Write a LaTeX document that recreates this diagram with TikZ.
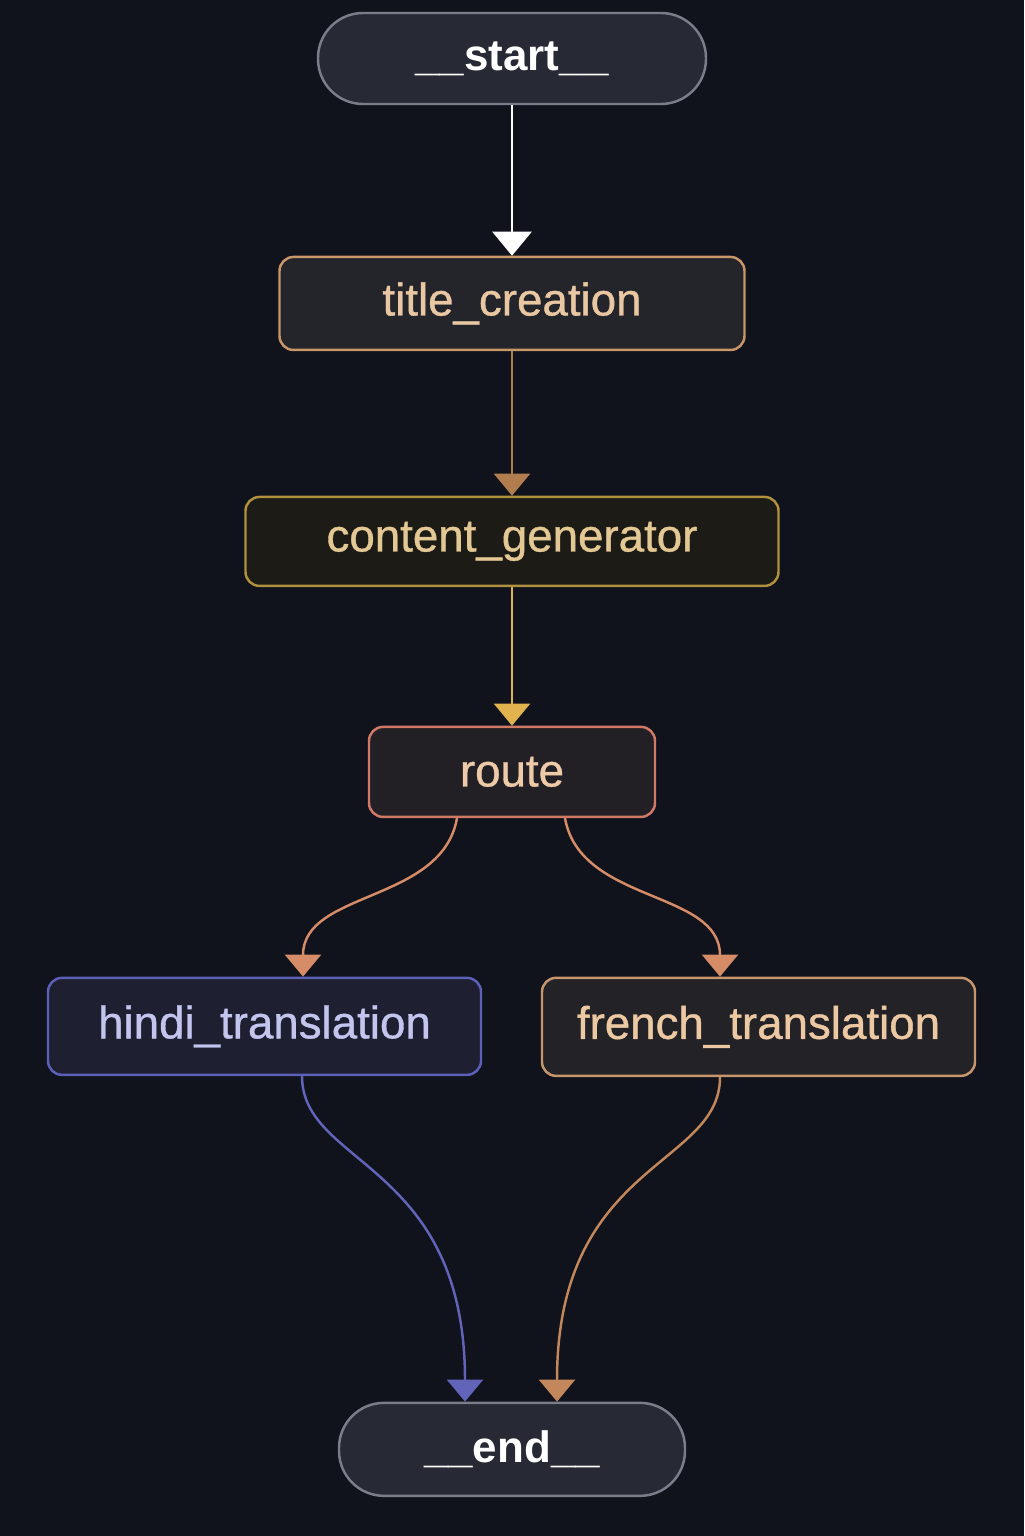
\documentclass[tikz,border=0pt]{standalone}
\usepackage{fontspec}
\setmainfont{Liberation Sans}
\newfontfamily\medfont[FakeBold=0.8]{Liberation Sans}
\usepackage{tikz}
\usetikzlibrary {arrows.meta,
                 positioning}
\definecolor{bgcol}{HTML}{10121C}
\definecolor{termfill}{HTML}{272935}
\definecolor{termline}{HTML}{7B7E8A}
\definecolor{titlefill}{HTML}{24242B}
\definecolor{titleline}{HTML}{C89668}
\definecolor{titletext}{HTML}{E9C7A2}
\definecolor{contfill}{HTML}{1D1B16}
\definecolor{contline}{HTML}{B0913F}
\definecolor{conttext}{HTML}{E4C894}
\definecolor{routefill}{HTML}{221F25}
\definecolor{routeline}{HTML}{D07A66}
\definecolor{routetext}{HTML}{EECAA8}
\definecolor{hindifill}{HTML}{1E1F30}
\definecolor{hindiline}{HTML}{5D60B8}
\definecolor{hinditext}{HTML}{C3C5EE}
\definecolor{frenchfill}{HTML}{232227}
\definecolor{frenchline}{HTML}{C7966C}
\definecolor{frenchtext}{HTML}{EDC9A3}
\definecolor{edgebrown}{HTML}{B27D4E}
\definecolor{edgegold}{HTML}{E0B34F}
\definecolor{edgesalmon}{HTML}{D68C66}
\definecolor{edgeblue}{HTML}{6164B9}
\definecolor{edgetan}{HTML}{C2875A}
\tikzset{
        base/.style={draw, align=center, line width=1.4pt, inner sep=0pt,
                     font=\fontsize{26}{30}\medfont},
        term/.style={base, rounded corners=0.9cm, fill=termfill, draw=termline,
                     text=white, minimum width=7.76cm, minimum height=1.82cm,
                     font=\fontsize{25}{30}\selectfont\bfseries},
        proc/.style={base, rectangle, rounded corners=0.28cm},
        myarrow/.style={-{Triangle[width=0.72cm,length=0.44cm]}, line width=1.4pt},
 }
\begin{document}
\begin{tikzpicture}
    \fill[bgcol] (0,0) rectangle (20.48,-30.72);

    \node[term] (start) at (10.24,-1.17) {\_\_start\_\_};
    \node[proc, fill=titlefill, draw=titleline, text=titletext,
          minimum width=9.3cm, minimum height=1.86cm,
          below=3.01cm of start] (title) {title\_creation};
    \node[proc, fill=contfill, draw=contline, text=conttext,
          minimum width=10.66cm, minimum height=1.78cm,
          below=2.89cm of title] (content) {content\_generator};
    \node[proc, fill=routefill, draw=routeline, text=routetext,
          minimum width=5.72cm, minimum height=1.8cm,
          below=2.77cm of content] (route) {route};
    \node[proc, fill=hindifill, draw=hindiline, text=hinditext,
          minimum width=8.66cm, minimum height=1.94cm,
          below=3.17cm of route, xshift=-4.95cm] (hindi) {hindi\_translation};
    \node[proc, fill=frenchfill, draw=frenchline, text=frenchtext,
          minimum width=8.66cm, minimum height=1.96cm,
          below=3.17cm of route, xshift=4.93cm] (french) {french\_translation};
    \node[term, minimum width=6.92cm, minimum height=1.86cm,
          below=11.67cm of route] (end) {\_\_end\_\_};

    \draw[myarrow, white, line width=1.6pt,
          -{Triangle[width=0.78cm,length=0.48cm]}] (start) -- (title);
    \draw[myarrow, edgebrown] (title) -- (content);
    \draw[myarrow, edgegold] (content) -- (route);

    \draw[myarrow, edgesalmon] ([xshift=-1.1cm]route.south)
        to[out=-100, in=90] ([xshift=0.77cm]hindi.north);
    \draw[myarrow, edgesalmon] ([xshift=1.06cm]route.south)
        to[out=-80, in=90] ([xshift=-0.77cm]french.north);

    \draw[myarrow, edgeblue] ([xshift=0.75cm]hindi.south)
        .. controls +(0,-1.8) and +(0,4.8) .. ([xshift=-0.94cm]end.north);
    \draw[myarrow, edgetan] ([xshift=-0.77cm]french.south)
        .. controls +(0,-1.8) and +(0,4.8) .. ([xshift=0.9cm]end.north);
\end{tikzpicture}
\end{document}
